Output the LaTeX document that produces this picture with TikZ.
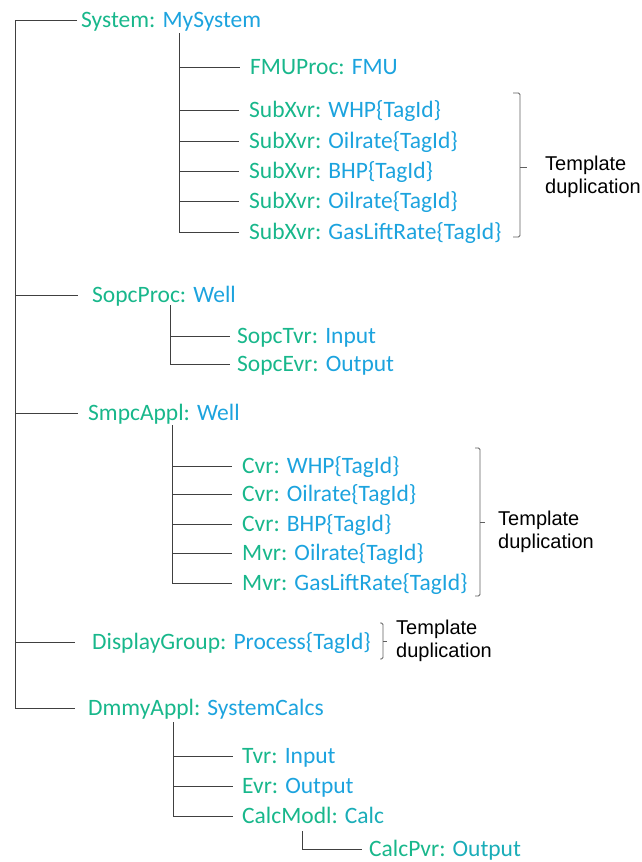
\documentclass[tikz,border=0pt]{standalone}
\usepackage{fontspec}
\setmainfont{Carlito}
\newfontfamily\notefont{Liberation Sans}
\definecolor{kind}{RGB}{24,183,139}
\definecolor{inst}{RGB}{28,163,222}
\definecolor{mixc}{RGB}{26,173,184}
\definecolor{wirec}{RGB}{64,64,64}
\definecolor{bracec}{RGB}{95,95,95}
\newcommand\kv[3][inst]{\textcolor{kind}{#2:} \textcolor{#1}{#3}}

\tikzset{
  item/.style={anchor=west, inner sep=0pt, text height=15pt, text depth=0pt,
    font=\fontsize{23.5}{28}\selectfont},
  wire/.style={draw=wirec, line width=0.9pt},
  bracket/.style={draw=bracec, line width=0.9pt, rounded corners=1.5pt},
  note/.style={anchor=west, inner sep=0pt, align=left,
    font=\notefont\fontsize{20}{23.5}\selectfont},
}

\begin{document}
\begin{tikzpicture}[x=1pt, y=-1pt]
\useasboundingbox (0,0) rectangle (642,862);

% ---- items ----
\node[item] (sys)  at (81,20)  {\kv{System}{MySystem}};
\node[item] (fmu)  at (250,67) {\kv{FMUProc}{FMU}};
\node[item] (sx1)  at (249,110) {\kv{SubXvr}{WHP\{TagId\}}};
\node[item] (sx2)  at (249,141) {\kv{SubXvr}{Oilrate\{TagId\}}};
\node[item] (sx3)  at (249,171) {\kv{SubXvr}{BHP\{TagId\}}};
\node[item] (sx4)  at (249,201) {\kv{SubXvr}{Oilrate\{TagId\}}};
\node[item] (sx5)  at (249,232) {\kv{SubXvr}{GasLiftRate\{TagId\}}};

\node[item] (sopc) at (92,295)  {\kv{SopcProc}{Well}};
\node[item] (stvr) at (237,336) {\kv{SopcTvr}{Input}};
\node[item] (sevr) at (237,364) {\kv{SopcEvr}{Output}};

\node[item] (smpc) at (88,413)  {\kv{SmpcAppl}{Well}};
\node[item] (cv1)  at (242,466) {\kv{Cvr}{WHP\{TagId\}}};
\node[item] (cv2)  at (242,494) {\kv{Cvr}{Oilrate\{TagId\}}};
\node[item] (cv3)  at (242,524) {\kv{Cvr}{BHP\{TagId\}}};
\node[item] (cv4)  at (242,553) {\kv{Mvr}{Oilrate\{TagId\}}};
\node[item] (cv5)  at (242,583) {\kv{Mvr}{GasLiftRate\{TagId\}}};

\node[item] (disp) at (92,642)  {\kv{DisplayGroup}{Process\{TagId\}}};

\node[item] (dmmy) at (88,708)  {\kv{DmmyAppl}{SystemCalcs}};
\node[item] (tvr)  at (242,756) {\kv{Tvr}{Input}};
\node[item] (evr)  at (242,786) {\kv{Evr}{Output}};
\node[item] (calc) at (242,816) {\kv[mixc]{CalcModl}{Calc}};
\node[item] (cpvr) at (369,849) {\kv[mixc]{CalcPvr}{Output}};

% ---- notes ----
\node[note] (t1) at (545,177) {Template\\duplication};
\node[note] (t2) at (498,532) {Template\\duplication};
\node[note] (t3) at (396,641) {Template\\duplication};

% ---- trunk ----
\coordinate (trunk) at (15,20);
\draw[wire] ([xshift=-4pt]sys.west) -- (trunk) -- (trunk |- dmmy.west) -- ([xshift=-13pt]dmmy.west);
\foreach \n/\g in {sopc/14, smpc/10, disp/17}
  \draw[wire] (trunk |- \n.west) -- ([xshift=-\g pt]\n.west);

% ---- System subtree ----
\coordinate (s1) at (179,33);
\draw[wire] (s1) |- ([xshift=-10pt]sx5.west);
\foreach \n in {fmu,sx1,sx2,sx3,sx4}
  \draw[wire] (s1 |- \n.west) -- ([xshift=-10pt]\n.west);

% ---- SopcProc subtree ----
\coordinate (s2) at (170,305);
\draw[wire] (s2) |- ([xshift=-7pt]sevr.west);
\draw[wire] (s2 |- stvr.west) -- ([xshift=-7pt]stvr.west);

% ---- SmpcAppl subtree ----
\coordinate (s3) at (172,425);
\draw[wire] (s3) |- ([xshift=-10pt]cv5.west);
\foreach \n in {cv1,cv2,cv3,cv4}
  \draw[wire] (s3 |- \n.west) -- ([xshift=-10pt]\n.west);

% ---- DmmyAppl subtree ----
\coordinate (s4) at (173,722);
\draw[wire] (s4) |- ([xshift=-9pt]calc.west);
\foreach \n in {tvr,evr}
  \draw[wire] (s4 |- \n.west) -- ([xshift=-9pt]\n.west);
\coordinate (s5) at (302,831);
\draw[wire] (s5) |- ([xshift=-7pt]cpvr.west);

% ---- brackets ----
\draw[bracket] (513,93) -- (520,93) -- (520,237) -- (513,237);
\draw[bracket] (520,167) -- (527,167);
\draw[bracket] (475,448) -- (480,448) -- (480,596) -- (475,596);
\draw[bracket] (480,522) -- (485,522);
\draw[bracket] (380,623) -- (383,623) -- (383,659) -- (380,659);
\draw[bracket] (383,641) -- (387,641);
\end{tikzpicture}
\end{document}
